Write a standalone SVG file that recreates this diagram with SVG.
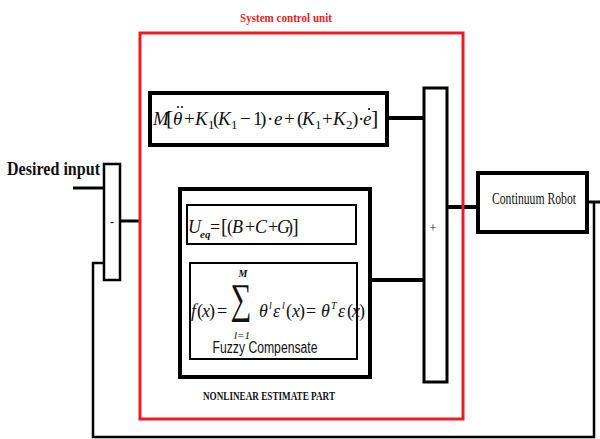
<svg xmlns="http://www.w3.org/2000/svg" width="600" height="439" viewBox="0 0 600 439">
<style>
.blk{fill:#fff;stroke:#000}
.ln{fill:none;stroke:#000}
.math{font-family:"Liberation Serif",serif;font-style:italic;fill:#111}
.up{font-family:"Liberation Serif",serif;font-style:normal;fill:#111}
.lab{font-family:"Liberation Serif",serif;font-weight:bold;fill:#111}
</style>
<rect width="600" height="439" fill="#fff"/>
<g id="connectors">
<line class="ln" x1="73" y1="188" x2="104" y2="188" stroke-width="3"/>
<line class="ln" x1="120" y1="221" x2="140" y2="221" stroke-width="3"/>
<line class="ln" x1="387" y1="118" x2="424" y2="118" stroke-width="4"/>
<line class="ln" x1="370" y1="280" x2="424" y2="280" stroke-width="4"/>
<line class="ln" x1="273" y1="244" x2="273" y2="263" stroke-width="1.5"/>
<line class="ln" x1="447" y1="207" x2="478" y2="207" stroke-width="4"/>
<polyline class="ln" points="587,202 600,202" stroke-width="3"/>
<polyline class="ln" points="594,202 594,437 93,437 93,263 104,263" stroke-width="2.5"/>
</g>
<g id="system-control-unit">
<rect x="140" y="33" width="323" height="386" fill="none" stroke="#ed1c24" stroke-width="3"/>
<text x="286" y="22" text-anchor="middle" font-family="Liberation Serif,serif" font-weight="bold" font-size="13" fill="#ed1c24" textLength="92" lengthAdjust="spacingAndGlyphs">System control unit</text>
</g>
<g id="desired-input">
<text x="7" y="175" class="lab" font-size="18" textLength="93" lengthAdjust="spacingAndGlyphs">Desired input</text>
</g>
<g id="minus-block">
<rect class="blk" x="104" y="164" width="16" height="116" stroke-width="2.5"/>
<text x="112" y="226" text-anchor="middle" class="lab" font-size="12">-</text>
</g>
<g id="dynamics-box">
<rect class="blk" x="150" y="93" width="237" height="52" stroke-width="4"/>
<text class="math" font-size="19" y="125"><tspan x="153">M</tspan><tspan class="up" x="163">.</tspan><tspan class="up" font-size="22" x="166">[</tspan><tspan x="173">θ</tspan><tspan class="up" x="184">+</tspan><tspan x="195">K</tspan><tspan class="up" font-size="13" x="208" y="129">1</tspan><tspan class="up" x="213" y="125">(</tspan><tspan x="218">K</tspan><tspan class="up" font-size="13" x="231" y="129">1</tspan><tspan class="up" x="240" y="125">−</tspan><tspan class="up" x="253">1</tspan><tspan class="up" x="260">)</tspan><tspan class="up" x="267">·</tspan><tspan x="274">e</tspan><tspan class="up" x="284">+</tspan><tspan class="up" x="297">(</tspan><tspan x="302">K</tspan><tspan class="up" font-size="13" x="315" y="129">1</tspan><tspan class="up" x="322" y="125">+</tspan><tspan x="333">K</tspan><tspan class="up" font-size="13" x="346" y="129">2</tspan><tspan class="up" x="352" y="125">)</tspan><tspan class="up" x="358">·</tspan><tspan x="363">e</tspan><tspan class="up" font-size="22" x="371">]</tspan></text>
<circle cx="178" cy="107" r="1.1" fill="#111"/>
<circle cx="182" cy="107" r="1.1" fill="#111"/>
<circle cx="369" cy="109" r="1.1" fill="#111"/>
</g>
<g id="nonlinear-estimate-part">
<rect class="blk" x="180" y="189" width="190" height="188" stroke-width="4"/>
<text x="269" y="400" text-anchor="middle" class="lab" font-size="13" textLength="132" lengthAdjust="spacingAndGlyphs">NONLINEAR ESTIMATE PART</text>
</g>
<g id="ueq-box">
<rect class="blk" x="187" y="205" width="169" height="39" stroke-width="2"/>
<text class="math" font-size="18" y="233"><tspan x="188">U</tspan><tspan font-size="11" font-weight="bold" x="200" y="238">eq</tspan><tspan class="up" x="210" y="233">=</tspan><tspan class="up" font-size="20" x="221">[</tspan><tspan class="up" x="227">(</tspan><tspan x="232">B</tspan><tspan class="up" x="245">+</tspan><tspan x="255">C</tspan><tspan class="up" x="268">+</tspan><tspan x="277">G</tspan><tspan class="up" x="287">)</tspan><tspan class="up" font-size="20" x="292">]</tspan></text>
</g>
<g id="fuzzy-box">
<rect class="blk" x="190" y="263" width="167" height="96" stroke-width="2"/>
<text class="math" font-size="18" y="317"><tspan x="191">f</tspan><tspan class="up" x="197">(</tspan><tspan x="202">x</tspan><tspan class="up" x="209">)</tspan><tspan class="up" x="217">=</tspan></text>
<text x="243" y="277" text-anchor="middle" class="math" font-size="10" font-weight="bold">M</text>
<text transform="translate(241,313) scale(0.7,1)" text-anchor="middle" font-family="Liberation Serif,serif" font-size="42" fill="#111">∑</text>
<text x="242" y="339" text-anchor="middle" class="math" font-size="11">l=1</text>
<text class="math" font-size="18" y="317"><tspan x="259">θ</tspan><tspan font-size="10" x="269" y="309">l</tspan><tspan x="273" y="317">ε</tspan><tspan font-size="10" x="282" y="309">l</tspan><tspan class="up" x="286" y="317">(</tspan><tspan x="292">x</tspan><tspan class="up" x="299">)</tspan><tspan class="up" x="306">=</tspan><tspan x="321">θ</tspan><tspan font-size="10" x="331" y="309">T</tspan><tspan x="338" y="317">ε</tspan><tspan class="up" x="347">(</tspan><tspan x="352">x</tspan><tspan class="up" x="359">)</tspan></text>
<text x="265" y="353" text-anchor="middle" font-family="Liberation Sans,sans-serif" font-size="16" fill="#111" textLength="105" lengthAdjust="spacingAndGlyphs">Fuzzy Compensate</text>
</g>
<g id="summing-bar">
<rect class="blk" x="424" y="88" width="23" height="294" stroke-width="3"/>
<text x="433" y="232" text-anchor="middle" font-family="Liberation Serif,serif" font-size="12" fill="#111">+</text>
</g>
<g id="continuum-robot">
<rect class="blk" x="478" y="173" width="109" height="59" stroke-width="4"/>
<text x="534" y="204" text-anchor="middle" font-family="Liberation Serif,serif" font-size="16" fill="#111" textLength="84" lengthAdjust="spacingAndGlyphs">Continuum Robot</text>
</g>
</svg>
